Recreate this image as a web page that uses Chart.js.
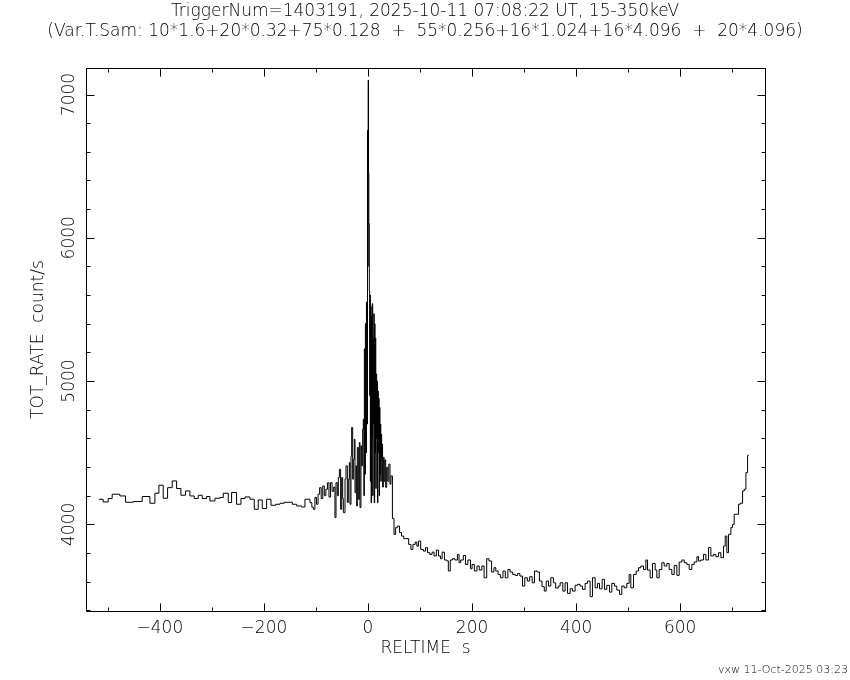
<!DOCTYPE html>
<html>
<head>
<meta charset="utf-8">
<script src="https://cdn.jsdelivr.net/npm/chart.js@4/dist/chart.umd.min.js"></script>
<style>
  html, body { margin: 0; padding: 0; background: #fff; }
  #wrap { width: 850px; height: 680px; }
</style>
</head>
<body>
<div id="wrap"><canvas id="c" width="850" height="680"></canvas></div>
<script>
// ---------------- DATA ----------------
const titleLines = [
  'TriggerNum=1403191, 2025-10-11 07:08:22 UT, 15-350keV',
  '(Var.T.Sam: 10*1.6+20*0.32+75*0.128  +  55*0.256+16*1.024+16*4.096  +  20*4.096)'
];
const xAxisTitle = 'RELTIME  s';
const yAxisTitle = 'TOT_RATE  count/s';
const footerText = 'vxw 11-Oct-2025 03:23';

// bin start times (s) and rates (count/s), pre-burst background
const preTime = [-517.3,-509,-499.4,-491.7,-476.9,-466,-451.3,-434,-419.2,-409.6,-401.9,-393.6,-385.2,-376.3,-367.9,-359.6,-350.6,-342.3,-334,-326.3,-318.6,-310.2,-303.8,-294.2,-284.6,-278.2,-268.6,-262.2,-252.6,-244.2,-236.5,-226.9,-218.6,-210.9,-203.2,-194.9,-186.5,-177.6,-169.2,-160.9,-145.5,-137.2,-127.6,-121.2];
const preRate = [4175,4156,4180,4210,4198,4154,4159,4194,4147,4217,4273,4182,4256,4303,4250,4203,4233,4198,4180,4203,4180,4194,4163,4182,4187,4217,4152,4222,4140,4180,4191,4175,4105,4170,4110,4175,4133,4140,4147,4154,4140,4128,4121,4175];

// burst (fine binning)
const burstTime = [-111.5,-108,-105,-102,-99,-96,-93,-90,-87,-84,-81,-78,-75,-72,-69,-66,-63.5,-61.5,-59,-57,-55,-52.6,-50.6,-48.7,-47.4,-44.2,-42.3,-39.7,-37.8,-35.9,-34.6,-32.7,-31.4,-29.5,-28.2,-26.3,-25,-23.1,-21.8,-20.5,-18.6,-16.7,-15.4,-13.5,-12.2,-10.3,-9,-8,-7,-6,-5,-4,-3,-2,-1,-0.3,0.3,1,1.6,2.5,3.2,3.8,4.5,5.2,6,6.8,7.5,8.2,9,9.8,10.5,11.2,12,12.8,13.5,14.2,15,15.8,16.6,17.4,18.2,19,19.8,20.6,21.4,22.2,23,23.8,24.6,25.4,26.2,27,28,29.5,31,32.5,34,35.9,38,40,42.3,44];
const burstRate = [4152,4120,4105,4187,4140,4210,4256,4180,4268,4200,4245,4290,4190,4291,4230,4260,4047,4291,4200,4326,4384,4105,4326,4180,4082,4315,4408,4152,4315,4431,4140,4478,4676,4315,4454,4594,4221,4408,4128,4536,4175,4571,4117,4548,4408,4664,4734,4200,5225,4350,5400,4500,5550,4700,6750,5800,7100,6450,6100,5630,4900,5600,4300,5520,4150,5450,4600,5540,4200,5300,4700,5470,4150,5400,4500,5300,4250,5050,4600,5000,4150,4930,4500,4880,4200,4816,4350,4700,4300,4630,4450,4560,4260,4468,4300,4450,4258,4398,4300,4420,4280,4338];

// decay and late rise
const decayTime = [46.9,50,53.1,56.3,60.6,64.4,68.8,78.1,82.5,86.3,90.6,93.8,96.9,101.3,106.3,110.6,114.4,118.8,123.1,126.9,131.3,135.6,139.4,142.5,146.9,151.3,154.4,158.1,162.5,166.9,171.9,175,178.1,183.1,187.5,191.9,196.9,200,204.4,209.4,213.8,218.8,223.1,228.1,232.5,237.5,241.9,245.6,250,254.4,259.4,263.8,268.8,273.1,278.1,283.1,287.5,291.9,296.9,301.3,306.3,310.6,315.6,320,325,329.4,334.4,338.8,342.5,346.9,351.3,356.3,360.6,365.6,369.2,374.4,378.8,383.3,388.5,393,398.1,402.6,407.7,412.2,417.3,421.8,426.9,431.4,436.5,441,444.9,450,454.5,459,464.1,468.6,473.7,478.2,483.3,487.8,492.3,497.4,501.9,505.1,510.3,515.4,519.9,524.4,529.5,534,537.2,542.3,546.8,551.9,555.1,559.6,564.7,569.2,574.4,578.8,583.9,588.5,593.6,598.1,603.2,607.7,612.8,617.3,622.4,626.9,632.1,635.3,639.7,644.9,649.4,654.5,659,664.1,668.6,673.7,678.2,683.3,686.5,689.7,692.9,697.4,700.6,703.8,708.9,712.2,715.4,719.9,723.1,726.3,729.5];
const decayRate = [4040,3930,3977,3988,3942,3918,3900,3860,3825,3860,3876,3848,3883,3825,3813,3837,3802,3790,3806,3779,3820,3779,3760,3806,3751,3745,3674,3751,3760,3751,3790,3732,3751,3783,3720,3751,3690,3720,3674,3709,3681,3709,3627,3760,3744,3667,3697,3674,3650,3627,3674,3627,3685,3667,3650,3643,3657,3639,3569,3627,3604,3634,3592,3674,3667,3604,3565,3534,3604,3569,3627,3592,3555,3569,3592,3534,3592,3518,3550,3534,3574,3581,3569,3546,3588,3604,3495,3627,3557,3588,3550,3616,3546,3574,3527,3588,3569,3541,3511,3569,3557,3588,3650,3557,3650,3674,3697,3709,3685,3751,3681,3627,3727,3681,3627,3685,3732,3709,3727,3685,3650,3713,3644,3737,3751,3732,3720,3685,3720,3737,3774,3744,3751,3790,3751,3837,3779,3790,3774,3802,3767,3848,3918,3802,3930,3977,4000,4070,4070,4140,4147,4233,4245,4361,4482];
const lastBinEnd = 731.4;

// axis ticks
const xAllTicks = [-500,-400,-300,-200,-100,0,100,200,300,400,500,600,700];
const xMajorTicks = [-400,-200,0,200,400,600];
const xTickLabels = ['\u2212400','\u2212200','0','200','400','600'];
const yAllTicks = [3400,3600,3800,4000,4200,4400,4600,4800,5000,5200,5400,5600,5800,6000,6200,6400,6600,6800,7000];
const yMajorTicks = [4000,5000,6000,7000];
const yTickLabels = ['4000','5000','6000','7000'];

// ---------------- BUILD ----------------
const allTime = preTime.concat(burstTime, decayTime);
const allRate = preRate.concat(burstRate, decayRate);
const points = allTime.map((t, i) => ({ x: t, y: allRate[i] }));
points.push({ x: lastBinEnd, y: allRate[allRate.length - 1] });

const FAM = '"DejaVu Sans", "Liberation Sans", sans-serif';
const baseFont = { family: FAM, size: 17, weight: 300 };

const framePlugin = {
  id: 'frame',
  afterDraw(chart) {
    const { ctx, chartArea: a, scales: { x, y } } = chart;
    ctx.save();
    ctx.strokeStyle = '#000';
    ctx.lineWidth = 1;
    const L = Math.round(a.left) + 0.5, R = Math.round(a.right) + 0.5;
    const T = Math.round(a.top) + 0.5, B = Math.round(a.bottom) + 0.5;
    ctx.strokeRect(L, T, R - L, B - T);
    ctx.beginPath();
    xAllTicks.forEach(v => {
      const px = Math.round(x.getPixelForValue(v)) + 0.5;
      const len = xMajorTicks.includes(v) ? 8 : 4;
      ctx.moveTo(px, B); ctx.lineTo(px, B - len);
      ctx.moveTo(px, T); ctx.lineTo(px, T + len);
    });
    yAllTicks.forEach(v => {
      const py = Math.round(y.getPixelForValue(v)) + 0.5;
      if (py < T - 0.1 || py > B + 0.1) return;
      const len = yMajorTicks.includes(v) ? 8 : 4;
      ctx.moveTo(L, py); ctx.lineTo(L + len, py);
      ctx.moveTo(R, py); ctx.lineTo(R - len, py);
    });
    ctx.stroke();
    ctx.fillStyle = '#000';
    ctx.font = '300 17px ' + FAM;
    ctx.textAlign = 'center';
    ctx.textBaseline = 'middle';
    yMajorTicks.forEach((v, i) => {
      const py = y.getPixelForValue(v);
      ctx.save();
      ctx.translate(70, py);
      ctx.rotate(-Math.PI / 2);
      ctx.fillText(yTickLabels[i], 0, 0);
      ctx.restore();
    });
    ctx.font = '300 11px ' + FAM;
    ctx.textAlign = 'right';
    ctx.textBaseline = 'alphabetic';
    ctx.fillText(footerText, 848, 673);
    ctx.restore();
  }
};

new Chart(document.getElementById('c'), {
  type: 'line',
  data: {
    datasets: [{
      data: points,
      stepped: 'before',
      borderColor: '#000',
      borderWidth: 1,
      pointRadius: 0,
      fill: false,
      tension: 0
    }]
  },
  options: {
    responsive: false,
    animation: false,
    layout: { padding: 0 },
    plugins: {
      legend: { display: false },
      tooltip: { enabled: false },
      title: {
        display: true,
        text: titleLines,
        color: '#000',
        font: { family: FAM, size: 17, weight: 300, lineHeight: '20px' },
        padding: { top: 2, bottom: 26 }
      }
    },
    scales: {
      x: {
        type: 'linear',
        min: -542,
        max: 763,
        grid: { display: false, drawTicks: false },
        border: { display: false },
        afterBuildTicks: s => { s.ticks = xMajorTicks.map(v => ({ value: v })); },
        afterFit: s => { s.height = 69; },
        ticks: {
          font: baseFont, color: '#000', padding: 7, autoSkip: false,
          maxRotation: 0, minRotation: 0,
          callback: (v, i) => xTickLabels[i]
        },
        title: { display: true, text: xAxisTitle, color: '#000', font: baseFont, padding: { top: 0, bottom: 21 } }
      },
      y: {
        type: 'linear',
        min: 3395,
        max: 7185,
        grid: { display: false, drawTicks: false },
        border: { display: false },
        ticks: { display: false },
        afterFit: s => { s.width = 86; },
        title: { display: true, text: yAxisTitle, color: '#000', font: baseFont, padding: { top: 28, bottom: 0 } }
      },
      yRight: {
        type: 'linear',
        position: 'right',
        min: 3395,
        max: 7185,
        grid: { display: false, drawTicks: false },
        border: { display: false },
        ticks: { display: false },
        afterFit: s => { s.width = 85; }
      }
    }
  },
  plugins: [framePlugin]
});
</script>
</body>
</html>
